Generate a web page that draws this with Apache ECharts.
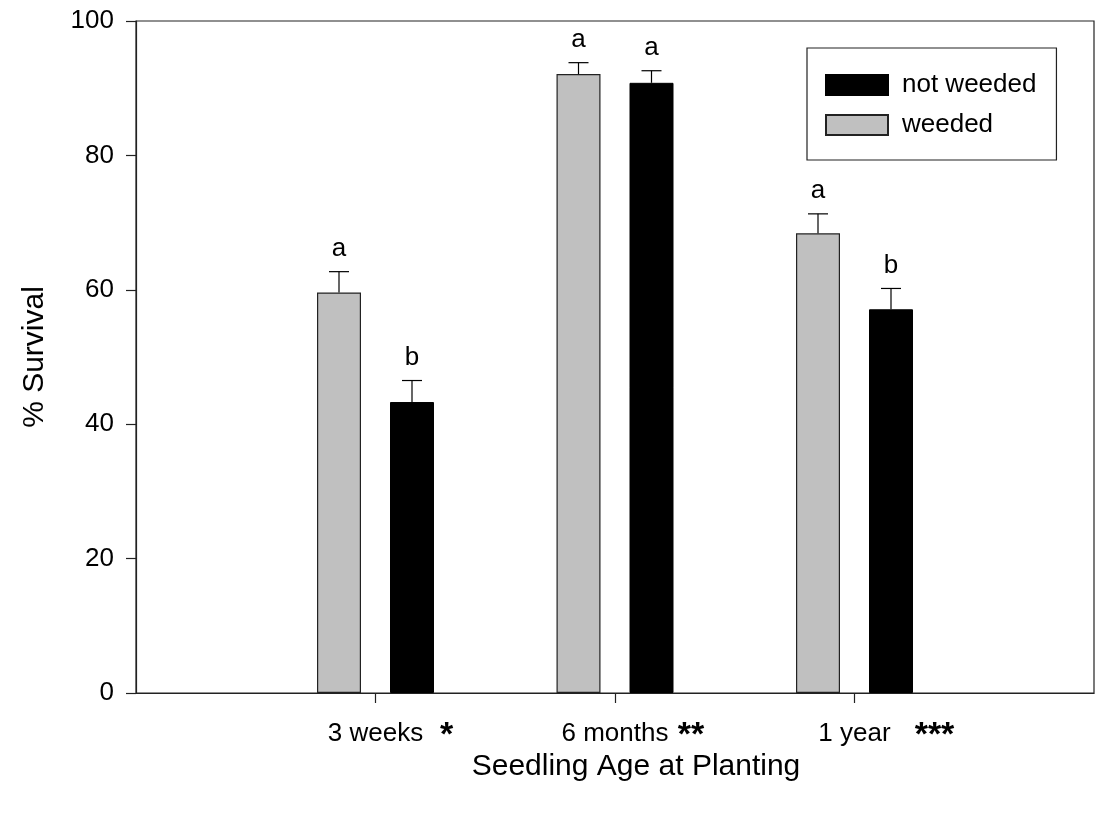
<!DOCTYPE html>
<html>
<head>
<meta charset="utf-8">
<script src="https://cdn.jsdelivr.net/npm/echarts@6/dist/echarts.min.js"></script>
<style>html,body{margin:0;padding:0;background:#fff;}#chart{width:1097px;height:813px;}</style>
</head>
<body>
<div id="chart"></div>
<script>
// ---- data ----
const categories = ['', '3 weeks', '6 months', '1 year', ''];
const stars = ['', '*', '**', '***', ''];
const weeded = [null, 59.6, 92.1, 68.4, null];
const weededErr = [null, 3.1, 1.7, 2.9, null];
const weededLetters = ['', 'a', 'a', 'a', ''];
const notWeeded = [null, 43.3, 90.8, 57.1, null];
const notWeededErr = [null, 3.2, 1.8, 3.1, null];
const notWeededLetters = ['', 'b', 'a', 'b', ''];
const yTicks = [0, 20, 40, 60, 80, 100];

// ---- layout / style ----
const FONT = 'Liberation Sans, Arial, sans-serif';
const BAR_W = 44, BAR_GAP_PX = 29;
const OFF = (BAR_W + BAR_GAP_PX) / 2;
const starOffsets = [0, 71, 76, 80, 0];

function errData(vals, errs) {
  const out = [];
  vals.forEach((v, i) => { if (v != null) out.push([i, v, errs[i]]); });
  return out;
}

function makeRender(side, letters) {
  return function (params, api) {
    const i = api.value(0), v = api.value(1), e = api.value(2);
    const p0 = api.coord([i, v]);
    const p1 = api.coord([i, v + e]);
    const x = p0[0] + side * OFF;
    const letter = letters[i] || '';
    return {
      type: 'group',
      children: [
        { type: 'line', shape: { x1: x, y1: p0[1], x2: x, y2: p1[1] }, style: { stroke: '#000', lineWidth: 1.2 } },
        { type: 'line', shape: { x1: x - 10, y1: p1[1], x2: x + 10, y2: p1[1] }, style: { stroke: '#000', lineWidth: 1.2 } },
        { type: 'text', style: { text: letter, x: x, y: p1[1] - 10, textAlign: 'center', textVerticalAlign: 'bottom', fill: '#000', font: '26px ' + FONT } }
      ]
    };
  };
}

const starRich = {};
starOffsets.forEach((o, i) => {
  starRich['s' + i] = { fontSize: 34, fontWeight: 'bold', fontFamily: FONT, color: '#000', padding: [0, 0, 0, 2 * o] };
});

const chart = echarts.init(document.getElementById('chart'), null, { renderer: 'canvas' });
chart.setOption({
  animation: false,
  backgroundColor: '#fff',
  textStyle: { fontFamily: FONT },
  grid: { left: 136, right: 2, top: 21, bottom: 120, show: true, borderColor: '#222', borderWidth: 1.2, containLabel: false },
  legend: {
    data: ['not weeded', 'weeded'],
    orient: 'vertical',
    left: 807, top: 48,
    padding: [24, 20, 22, 18],
    itemWidth: 62, itemHeight: 20, itemGap: 14,
    icon: 'rect',
    borderColor: '#222', borderWidth: 1.2,
    textStyle: { fontSize: 26, color: '#000', fontFamily: FONT, padding: [0, 0, 0, 9] }
  },
  xAxis: [{
    type: 'category',
    data: categories,
    boundaryGap: false,
    axisLine: { lineStyle: { color: '#222', width: 1.2 } },
    axisTick: { show: true, length: 10, interval: (idx) => idx >= 1 && idx <= 3, lineStyle: { color: '#222', width: 1.2 } },
    axisLabel: { interval: 0, margin: 28, fontSize: 26, color: '#000', fontFamily: FONT },
    splitLine: { show: false },
    name: 'Seedling Age at Planting',
    nameLocation: 'middle',
    nameGap: 58,
    nameTextStyle: { fontSize: 30, color: '#000', fontFamily: FONT, padding: [0, 0, 0, 42] }
  }, {
    type: 'category',
    data: categories,
    boundaryGap: false,
    position: 'bottom',
    axisLine: { show: false },
    axisTick: { show: false },
    axisLabel: {
      interval: 0, margin: 26, color: '#000',
      formatter: (val, idx) => stars[idx] ? '{s' + idx + '|' + stars[idx] + '}' : '',
      rich: starRich
    }
  }],
  yAxis: {
    type: 'value',
    min: 0, max: 100, interval: 20,
    axisLine: { show: true, lineStyle: { color: '#222', width: 1.2 } },
    axisTick: { show: true, length: 10, lineStyle: { color: '#222', width: 1.2 } },
    axisLabel: { margin: 22, fontSize: 26, color: '#000', fontFamily: FONT,
      formatter: (v) => yTicks.includes(v) ? String(v) : '' },
    splitLine: { show: false },
    name: '% Survival',
    nameLocation: 'middle',
    nameGap: 86,
    nameTextStyle: { fontSize: 30, color: '#000', fontFamily: FONT }
  },
  series: [
    { name: 'weeded', type: 'bar', data: weeded, barWidth: BAR_W, barGap: (BAR_GAP_PX / BAR_W * 100) + '%',
      itemStyle: { color: '#c0c0c0', borderColor: '#222', borderWidth: 1.2 } },
    { name: 'not weeded', type: 'bar', data: notWeeded, barWidth: BAR_W,
      itemStyle: { color: '#000', borderColor: '#000', borderWidth: 1 } },
    { name: 'errW', type: 'custom', data: errData(weeded, weededErr), renderItem: makeRender(-1, weededLetters), clip: false, z: 5 },
    { name: 'errN', type: 'custom', data: errData(notWeeded, notWeededErr), renderItem: makeRender(1, notWeededLetters), clip: false, z: 5 }
  ]
});
</script>
</body>
</html>
